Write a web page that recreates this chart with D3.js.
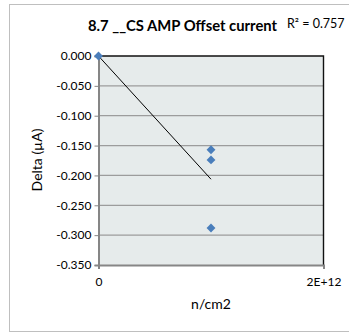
<!DOCTYPE html>
<html><head><meta charset="utf-8">
<script src="https://cdn.jsdelivr.net/npm/d3@7"></script>
<style>body{margin:0;background:#fff;}svg{display:block;font-family:Lato,"Liberation Sans",sans-serif;}</style>
</head><body>
<script>
const xValues = [0, 1e12, 1e12, 1e12];
const yValues = [0, -0.157, -0.174, -0.288];
const yTicks = [0, -0.05, -0.1, -0.15, -0.2, -0.25, -0.3, -0.35];
const xTicks = [0, 2e12];
const xTickLabels = ["0", "2E+12"];
const title = "8.7 __CS AMP Offset current";
const xTitle = "n/cm2";
const yTitle = "Delta (µA)";
const r2Label = "R² = 0.757";

const W = 349, H = 335;
const svg = d3.select("body").append("svg").attr("width", W).attr("height", H);
const m = {l: 98.5, r: 323.5, t: 56, b: 265};
const x = d3.scaleLinear().domain([0, 2e12]).range([m.l, m.r]);
const y = d3.scaleLinear().domain([-0.35, 0]).range([m.b, m.t]);
const fmt = d => d3.format(".3f")(d).replace("−", "-");

// outer frame
svg.append("rect").attr("x", 9.5).attr("y", 4.5).attr("width", 400).attr("height", 327)
  .attr("fill", "#fff").attr("stroke", "#bfbfbf").attr("stroke-width", 1);

// plot bg
svg.append("rect").attr("x", m.l).attr("y", m.t).attr("width", m.r - m.l).attr("height", m.b - m.t)
  .attr("fill", "#e6ebeb");

// gridlines
svg.append("g").selectAll("line").data(yTicks.filter(d => d !== 0 && d !== -0.35)).join("line")
  .attr("x1", m.l).attr("x2", m.r).attr("y1", d => y(d)).attr("y2", d => y(d))
  .attr("stroke", "#9c9c9c").attr("stroke-width", 1.3);

// top & right border
svg.append("path").attr("d", `M${m.l},${m.t}H${m.r}V${m.b}`).attr("fill", "none")
  .attr("stroke", "#111").attr("stroke-width", 1.4);

// y axis
const yAxis = d3.axisLeft(y).tickValues(yTicks).tickFormat(fmt).tickSize(4).tickPadding(3);
const gy = svg.append("g").attr("transform", `translate(${m.l},0)`).call(yAxis);
gy.select(".domain").attr("stroke", "#868686").attr("stroke-width", 2);
gy.selectAll(".tick line").attr("stroke", "#868686").attr("stroke-width", 1);
gy.selectAll("text").attr("font-size", 12).attr("fill", "#000").attr("font-family", "Lato, sans-serif");

// x axis
const xAxis = d3.axisBottom(x).tickValues(xTicks).tickFormat((d, i) => xTickLabels[i]).tickSize(4).tickPadding(8);
const gx = svg.append("g").attr("transform", `translate(0,${m.b})`).call(xAxis);
gx.select(".domain").attr("stroke", "#868686").attr("stroke-width", 2);
gx.selectAll(".tick line").attr("stroke", "#868686").attr("stroke-width", 1);
gx.selectAll("text").attr("font-size", 12).attr("fill", "#000").attr("font-family", "Lato, sans-serif");

// regression trendline
const n = xValues.length;
const mx = d3.mean(xValues), my = d3.mean(yValues);
let sxy = 0, sxx = 0;
for (let i = 0; i < n; i++) { sxy += (xValues[i]-mx)*(yValues[i]-my); sxx += (xValues[i]-mx)**2; }
const slope = sxy / sxx, icpt = my - slope * mx;
const xmin = d3.min(xValues), xmax = d3.max(xValues);
svg.append("line").attr("x1", x(xmin)).attr("y1", y(icpt + slope * xmin))
  .attr("x2", x(xmax)).attr("y2", y(icpt + slope * xmax))
  .attr("stroke", "#000").attr("stroke-width", 1);

// points
const sym = d3.symbol().type(d3.symbolDiamond2).size(50);
svg.append("g").selectAll("path").data(d3.zip(xValues, yValues)).join("path")
  .attr("d", sym).attr("transform", d => `translate(${x(d[0])},${y(d[1])})`)
  .attr("fill", "#4a7ebb");

// titles
svg.append("text").attr("x", 88).attr("y", 31).text(title)
  .attr("font-size", 14.8).attr("font-weight", "bold").attr("fill", "#000");
svg.append("text").attr("x", 287).attr("y", 28).text(r2Label)
  .attr("font-size", 12.5).attr("fill", "#000");
svg.append("text").attr("x", 211).attr("y", 309).attr("text-anchor", "middle").text(xTitle)
  .attr("font-size", 14).attr("fill", "#000");
svg.append("text").attr("transform", "translate(42,160) rotate(-90)").attr("text-anchor", "middle").text(yTitle)
  .attr("font-size", 14).attr("fill", "#000");
</script>
</body></html>
